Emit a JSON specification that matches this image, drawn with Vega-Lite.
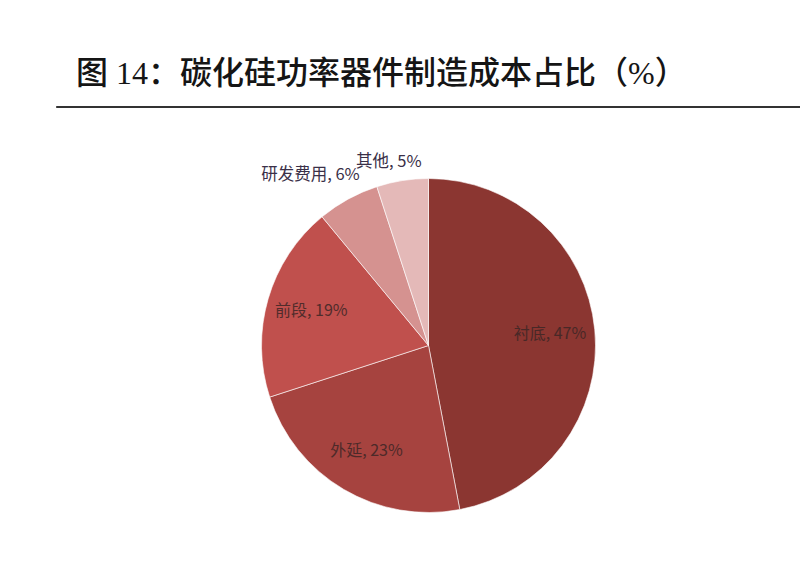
{
  "$schema": "https://vega.github.io/schema/vega-lite/v6.json",
  "padding": {"left": 55, "top": 57, "right": 0, "bottom": 0},
  "background": "white",
  "spacing": 10,
  "config": {"view": {"stroke": null}, "font": "Noto Sans CJK SC"},
  "vconcat": [
    {
      "title": {
        "text": "图 14：碳化硅功率器件制造成本占比（%）",
        "anchor": "start",
        "dx": 20,
        "fontSize": 32,
        "fontWeight": 500,
        "font": "Liberation Serif, Noto Sans CJK SC",
        "color": "#151515",
        "offset": 10
      },
      "width": 745,
      "height": 1,
      "view": {"fill": "#333333", "stroke": "#333333", "strokeWidth": 1},
      "data": {"values": [{}]},
      "mark": {"type": "text", "text": ""},
      "encoding": {}
    },
    {
      "width": 745,
      "height": 447,
      "data": {
        "values": [
          {"name": "衬底", "value": 47, "label": "衬底, 47%"},
          {"name": "外延", "value": 23, "label": "外延, 23%"},
          {"name": "前段", "value": 19, "label": "前段, 19%"},
          {"name": "研发费用", "value": 6, "label": "研发费用, 6%"},
          {"name": "其他", "value": 5, "label": "其他, 5%"}
        ]
      },
      "encoding": {
        "theta": {"field": "value", "type": "quantitative", "stack": true},
        "order": {"field": "value", "sort": "descending"},
        "color": {
          "field": "name",
          "type": "nominal",
          "legend": null,
          "scale": {
            "domain": ["衬底", "外延", "前段", "研发费用", "其他"],
            "range": ["#8B3631", "#A6433F", "#C0504D", "#D59290", "#E4B9B8"]
          }
        }
      },
      "layer": [
        {
          "mark": {"type": "arc", "outerRadius": 167, "stroke": "#ffffff", "strokeWidth": 0.6}
        },
        {
          "mark": {"type": "text", "radius": 122, "fontSize": 16, "font": "Noto Sans CJK SC", "align": "center", "baseline": "middle"},
          "encoding": {
            "text": {"field": "label", "type": "nominal"},
            "color": {"value": "#3d2626"},
            "opacity": {"condition": {"test": "datum.value > 10", "value": 0.85}, "value": 0}
          }
        },
        {
          "mark": {"type": "text", "radius": 184, "thetaOffset": 0.12, "fontSize": 16.5, "font": "Noto Sans CJK SC", "align": "right", "baseline": "middle"},
          "encoding": {
            "text": {"field": "label", "type": "nominal"},
            "color": {"value": "#3a3048"},
            "opacity": {"condition": {"test": "datum.value < 10", "value": 1}, "value": 0}
          }
        }
      ]
    }
  ]
}
